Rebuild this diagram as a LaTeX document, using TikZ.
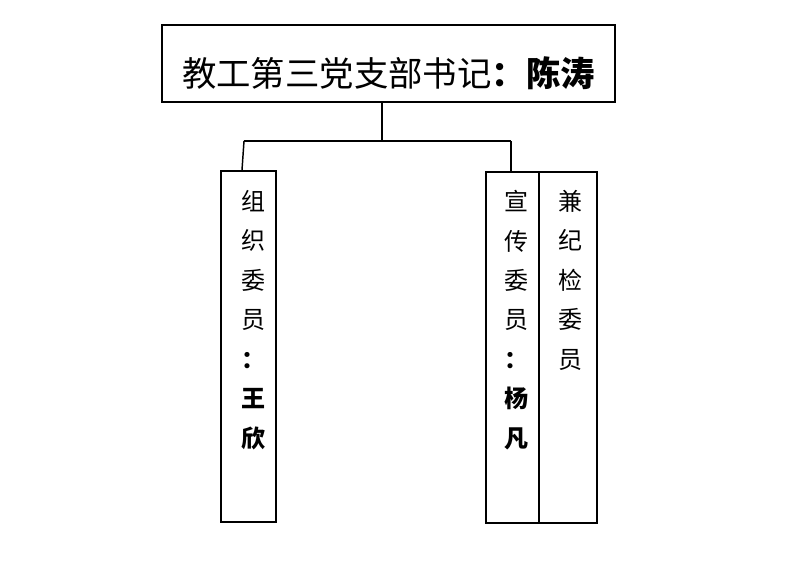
\documentclass[tikz,border=0pt]{standalone}
\usepackage{fontspec}
\usepackage{tikz}
\usetikzlibrary{calc}
\newfontfamily\cjk{Noto Sans CJK SC}

\begin{document}
\begin{tikzpicture}[x=0.75pt, y=-0.75pt,
        box/.style={draw=black, line width=1.5pt, rectangle, inner sep=0pt},
        vtext/.style={anchor=north, inner sep=0pt, align=center, font=\cjk\fontsize{18}{29.6}\selectfont},
        link/.style={draw=black, line width=1.1pt}]
        \useasboundingbox (0,0) rectangle (793,569);

        \node[box, minimum width=339.75pt, minimum height=57.75pt] (sec) at (388.5,63.5) {};
        \node[inner sep=0pt, font=\cjk\fontsize{25.8}{30}\selectfont] (sectext) at (388.4,73.4) {教工第三党支部书记\textbf{：陈涛}};

        \node[box, minimum width=41.6pt, minimum height=263.6pt] (org) at (248.25,346.75) {};
        \node[box, minimum width=39.75pt, minimum height=262.9pt] (pub) at (512.5,347.25) {};
        \node[box, minimum width=43.5pt, minimum height=262.9pt] (disc) at (568,347.25) {};

        \node[vtext] (orgtext) at (253,190) {组\\织\\委\\员\\\textbf{：}\\\textbf{王}\\\textbf{欣}};
        \node[vtext] (pubtext) at (516.7,190) {宣\\传\\委\\员\\\textbf{：}\\\textbf{杨}\\\textbf{凡}};
        \node[vtext] (disctext) at (570,190) {兼\\纪\\检\\委\\员};

        \coordinate (hub) at (382,141);
        \coordinate (jl) at (244,141);
        \coordinate (jr) at (511,141);

        \draw[link] (hub |- sec.south) -- (hub);
        \draw[link] (jl) -- (jr);
        \draw[link] (jl) -- (242,0 |- org.north);
        \draw[link] (jr) -- (jr |- pub.north);
    \end{tikzpicture}
\end{document}
